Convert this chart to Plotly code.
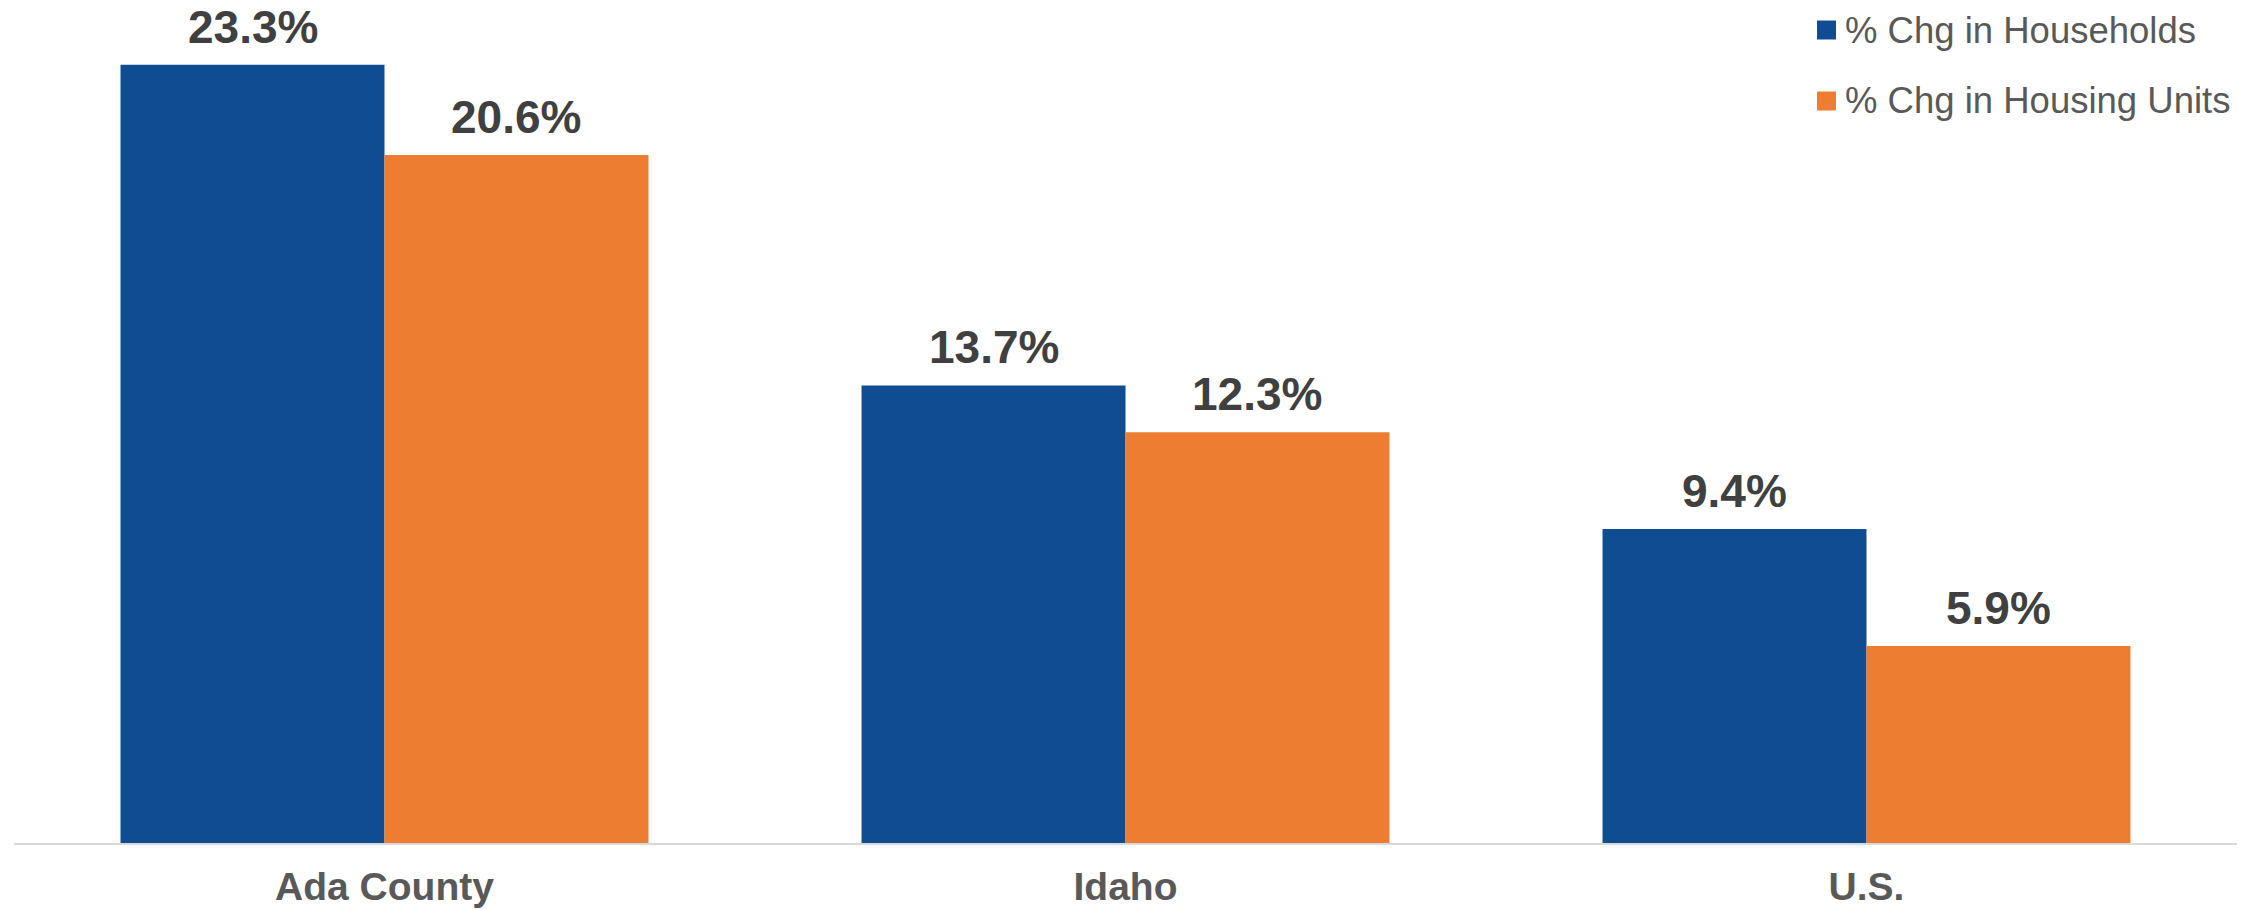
import plotly.graph_objects as go

# Data
categories = ["Ada County", "Idaho", "U.S."]
households_chg = [23.3, 13.7, 9.4]
housing_units_chg = [20.6, 12.3, 5.9]
series_names = ["% Chg in Households", "% Chg in Housing Units"]
series_colors = ["#104C91", "#ED7D31"]

W, H = 2267, 910
M_L, M_R, M_T, M_B = 14, 30, 8, 67
Y_MAX = 25
BARGAP = 0.2875
FONT = "Liberation Sans, Arial, sans-serif"

fig = go.Figure()
for name, vals, color in zip(series_names, [households_chg, housing_units_chg], series_colors):
    fig.add_trace(go.Bar(
        x=categories, y=vals, name=name,
        marker=dict(color=color, line=dict(width=0)),
        showlegend=False,
    ))

# value labels above each bar
plot_w = W - M_L - M_R
cat_px = plot_w / len(categories)
bar_px = cat_px * (1 - BARGAP) / 2
for i, vals in enumerate([households_chg, housing_units_chg]):
    shift = (i - 0.5) * bar_px
    for cat, v in zip(categories, vals):
        fig.add_annotation(
            x=cat, y=v, xref="x", yref="y",
            text=f"{v:.1f}%", showarrow=False,
            yanchor="bottom", xanchor="center",
            xshift=shift, yshift=10,
            font=dict(family=FONT, size=46, color="#404040", weight="bold"),
        )

# legend: colour squares with text
plot_h = H - M_T - M_B
def px_to_paper(px, py):
    return (px - M_L) / plot_w, (H - M_B - py) / plot_h

legend_rows_y = [30, 101]
for name, color, cy in zip(series_names, series_colors, legend_rows_y):
    x0, y0 = px_to_paper(1817, cy + 9.5)
    x1, y1 = px_to_paper(1836, cy - 9.5)
    fig.add_shape(type="rect", xref="paper", yref="paper",
                  x0=x0, x1=x1, y0=y0, y1=y1,
                  fillcolor=color, line=dict(width=0))
    tx, ty = px_to_paper(1843, cy)
    fig.add_annotation(
        x=tx, y=ty, xref="paper", yref="paper",
        text=name, showarrow=False, xanchor="left", yanchor="middle",
        font=dict(family=FONT, size=36.5, color="#595959"),
    )

fig.update_layout(
    width=W, height=H,
    margin=dict(l=M_L, r=M_R, t=M_T, b=M_B, pad=0, autoexpand=False),
    barmode="group", bargap=BARGAP, bargroupgap=0,
    plot_bgcolor="white", paper_bgcolor="white",
    font=dict(family=FONT),
)
fig.update_xaxes(
    showline=True, linecolor="#D9D9D9", linewidth=2, automargin=False,
    ticks="", showgrid=False, ticklabelstandoff=8,
    tickfont=dict(size=39, color="#595959", weight="bold"),
)
fig.update_yaxes(
    range=[0, Y_MAX], visible=False, showgrid=False, zeroline=False,
)

fig.write_html("out.html")
